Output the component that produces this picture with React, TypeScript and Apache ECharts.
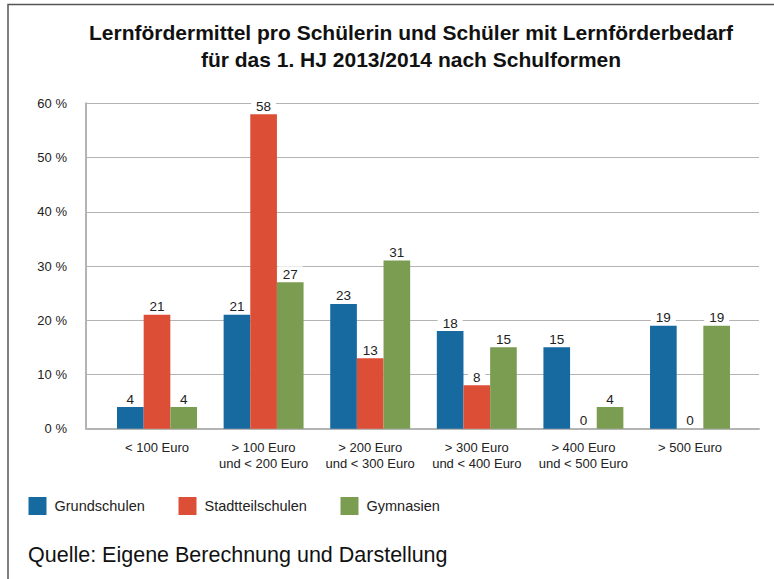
import React, { useEffect, useRef } from "react";
import * as echarts from "echarts";

const categories = [
  "< 100 Euro",
  "> 100 Euro\nund < 200 Euro",
  "> 200 Euro\nund < 300 Euro",
  "> 300 Euro\nund < 400 Euro",
  "> 400 Euro\nund < 500 Euro",
  "> 500 Euro",
];
const grundschulen = [4, 21, 23, 18, 15, 19];
const stadtteilschulen = [21, 58, 13, 8, 0, 0];
const gymnasien = [4, 27, 31, 15, 4, 19];
const seriesNames = ["Grundschulen", "Stadtteilschulen", "Gymnasien"];
const yTicks = [0, 10, 20, 30, 40, 50, 60];
const titleLines = [
  "Lernfördermittel pro Schülerin und Schüler mit Lernförderbedarf",
  "für das 1. HJ 2013/2014 nach Schulformen",
];
const sourceText = "Quelle: Eigene Berechnung und Darstellung";

const colors = ["#176aa0", "#dc4e35", "#7b9d52"];
const FONT = "'Liberation Sans', Arial, Helvetica, sans-serif";

export default function App() {
  const ref = useRef<HTMLDivElement>(null);
  useEffect(() => {
    const chart = echarts.init(ref.current!, null, { renderer: "svg" });
    const gridTop = 103.3;
    const gridBottom = 579 - 428.7;
    const yMin = yTicks[0];
    const yMax = yTicks[yTicks.length - 1];
    const yInterval = yTicks[1] - yTicks[0];
    const data = [grundschulen, stadtteilschulen, gymnasien];
    const legendLefts = [28.5, 178.5, 340.5];
    chart.setOption({
      animation: false,
      backgroundColor: "#ffffff",
      textStyle: { fontFamily: FONT },
      title: {
        text: titleLines.join("\n"),
        left: 411,
        textAlign: "center",
        top: 19,
        padding: 0,
        textStyle: {
          fontFamily: FONT,
          fontSize: 21,
          fontWeight: "bold",
          color: "#111",
          lineHeight: 27,
        },
      },
      legend: seriesNames.map((n, i) => ({
        data: [n],
        left: legendLefts[i],
        top: 497,
        padding: 0,
        itemWidth: 18,
        itemHeight: 18,
        itemGap: 0,
        icon: "rect",
        textStyle: { fontFamily: FONT, fontSize: 14.5, color: "#222", padding: [5, 0, 0, 3] },
      })),
      grid: [
        { left: 86, right: 15, top: gridTop, bottom: gridBottom },
        { left: 103.7, right: 30.7, top: gridTop, bottom: gridBottom },
      ],
      xAxis: [
        {
          type: "value",
          gridIndex: 0,
          min: 0,
          max: 1,
          axisLine: { show: true, onZero: false, lineStyle: { color: "#b4b4b4", width: 2 } },
          axisTick: { show: false },
          axisLabel: { show: false },
          splitLine: { show: false },
        },
        {
          type: "category",
          gridIndex: 1,
          data: categories,
          axisLine: { show: false },
          axisTick: { show: false },
          axisLabel: {
            interval: 0,
            margin: 11,
            fontFamily: FONT,
            fontSize: 13,
            lineHeight: 16,
            color: "#222",
          },
        },
      ],
      yAxis: [
        {
          type: "value",
          gridIndex: 0,
          min: yMin,
          max: yMax,
          interval: yInterval,
          axisLine: { show: true, lineStyle: { color: "#b4b4b4", width: 2 } },
          axisTick: { show: false },
          axisLabel: {
            formatter: "{value} %",
            margin: 19,
            fontFamily: FONT,
            fontSize: 13,
            color: "#222",
          },
          splitLine: { show: true, lineStyle: { color: "#b4b4b4", width: 1.2 } },
        },
        {
          type: "value",
          gridIndex: 1,
          min: yMin,
          max: yMax,
          interval: yInterval,
          show: false,
          splitLine: { show: false },
        },
      ],
      series: seriesNames.map((name, i) => ({
        name,
        type: "bar",
        xAxisIndex: 1,
        yAxisIndex: 1,
        data: data[i],
        barGap: "0%",
        barCategoryGap: "25%",
        itemStyle: { color: colors[i] },
        label: {
          show: true,
          position: "top",
          distance: 1,
          fontFamily: FONT,
          fontSize: 13.5,
          color: "#222",
          backgroundColor: "#ffffff",
          padding: [1, 5, 0, 5],
        },
      })),
      graphic: [
        {
          type: "polyline",
          shape: { points: [[8, 579], [8, 4.5], [774, 4.5]] },
          style: { stroke: "#555", lineWidth: 1.5, fill: "none" },
        },
        {
          type: "text",
          left: 28,
          top: 544,
          style: {
            text: sourceText,
            fontFamily: FONT,
            fontSize: 21.5,
            fill: "#111",
          },
        },
      ],
    });
    return () => chart.dispose();
  }, []);
  return (
    <div
      ref={ref}
      style={{ position: "absolute", left: 0, top: 0, width: 774, height: 579 }}
    />
  );
}
